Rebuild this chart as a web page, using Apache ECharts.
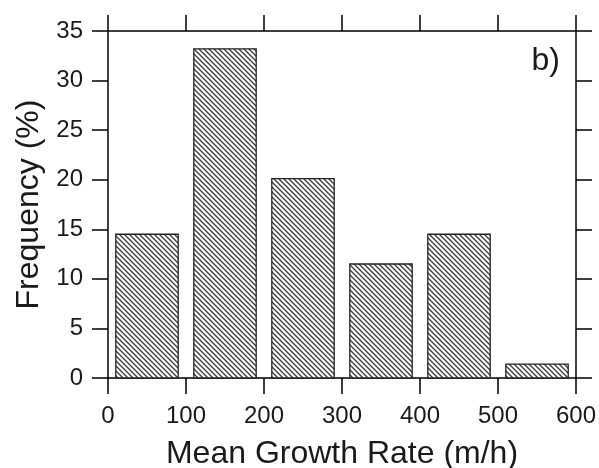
<!DOCTYPE html>
<html>
<head>
<meta charset="utf-8">
<script src="https://cdn.jsdelivr.net/npm/echarts@6/dist/echarts.min.js"></script>
<style>
  html, body { margin: 0; padding: 0; background: #fff; }
  #chart { width: 599px; height: 468px; }
</style>
</head>
<body>
<div id="chart"></div>
<script>
// Histogram of mean growth rate: bin centres (m/h) and frequency per bin (%)
const binCenters = [50, 150, 250, 350, 450, 550];
const frequency = [14.5, 33.2, 20.1, 11.5, 14.5, 1.4];
const binWidth = 80;
const xTicks = [0, 100, 200, 300, 400, 500, 600];
const yTicks = [0, 5, 10, 15, 20, 25, 30, 35];

const FONT = '"Liberation Sans", Arial, sans-serif';
const INK = '#000';
const TEXT = '#1a1a1a';

// Diagonal hatch tile ("\" direction)
function hatchTile() {
  const s = 5;
  const c = document.createElement('canvas');
  c.width = s; c.height = s;
  const g = c.getContext('2d');
  g.fillStyle = '#fff';
  g.fillRect(0, 0, s, s);
  g.strokeStyle = '#3a3a3a';
  g.lineWidth = 1.3;
  g.beginPath();
  g.moveTo(-1, -1); g.lineTo(s + 1, s + 1);
  g.moveTo(-1, s - 1); g.lineTo(1, s + 1);
  g.moveTo(s - 1, -1); g.lineTo(s + 1, 1);
  g.stroke();
  return c;
}
const hatch = { image: hatchTile(), repeat: 'repeat' };

const chart = echarts.init(document.getElementById('chart'), null, { renderer: 'canvas' });

const axisLine = { show: true, onZero: false, lineStyle: { color: INK, width: 1.5 } };
const axisTick = { show: true, inside: false, length: 16, lineStyle: { color: INK, width: 1.5 } };

const xMin = xTicks[0], xMax = xTicks[xTicks.length - 1];
const xStep = xTicks[1] - xTicks[0];
const yMin = yTicks[0], yMax = yTicks[yTicks.length - 1];
const yStep = yTicks[1] - yTicks[0];

chart.setOption({
  animation: false,
  backgroundColor: '#fff',
  grid: { left: 108, right: 23, top: 31, bottom: 90, containLabel: false, outerBoundsMode: 'none' },
  xAxis: [
    {
      type: 'value', position: 'bottom', min: xMin, max: xMax, interval: xStep,
      axisLine, axisTick, splitLine: { show: false },
      axisLabel: { fontSize: 24, color: TEXT, fontFamily: FONT, margin: 26 },
      name: 'Mean Growth Rate (m/h)', nameLocation: 'middle', nameGap: 60,
      nameTextStyle: { fontSize: 32, color: TEXT, fontFamily: FONT }
    },
    {
      type: 'value', position: 'top', min: xMin, max: xMax, interval: xStep,
      axisLine, axisTick, splitLine: { show: false }, axisLabel: { show: false }
    }
  ],
  yAxis: [
    {
      type: 'value', position: 'left', min: yMin, max: yMax, interval: yStep,
      axisLine, axisTick, splitLine: { show: false },
      axisLabel: { fontSize: 24, color: TEXT, fontFamily: FONT, margin: 25 },
      name: 'Frequency (%)', nameLocation: 'middle', nameGap: 62, nameRotate: 90,
      nameTextStyle: { fontSize: 32, color: TEXT, fontFamily: FONT }
    },
    {
      type: 'value', position: 'right', min: yMin, max: yMax, interval: yStep,
      axisLine, axisTick, splitLine: { show: false }, axisLabel: { show: false }
    }
  ],
  graphic: [
    {
      type: 'text', right: 39, top: 45,
      style: { text: 'b)', font: '32px ' + FONT, fill: TEXT }
    }
  ],
  series: [
    {
      type: 'custom',
      xAxisIndex: 0, yAxisIndex: 0,
      data: binCenters.map((c, i) => [c, frequency[i]]),
      renderItem: function (params, api) {
        const c = api.value(0), v = api.value(1);
        const p0 = api.coord([c - binWidth / 2, v]);
        const p1 = api.coord([c + binWidth / 2, 0]);
        return {
          type: 'rect',
          shape: { x: p0[0], y: p0[1], width: p1[0] - p0[0], height: p1[1] - p0[1] },
          style: { fill: hatch, stroke: '#222', lineWidth: 1.3 }
        };
      }
    }
  ]
});
</script>
</body>
</html>
